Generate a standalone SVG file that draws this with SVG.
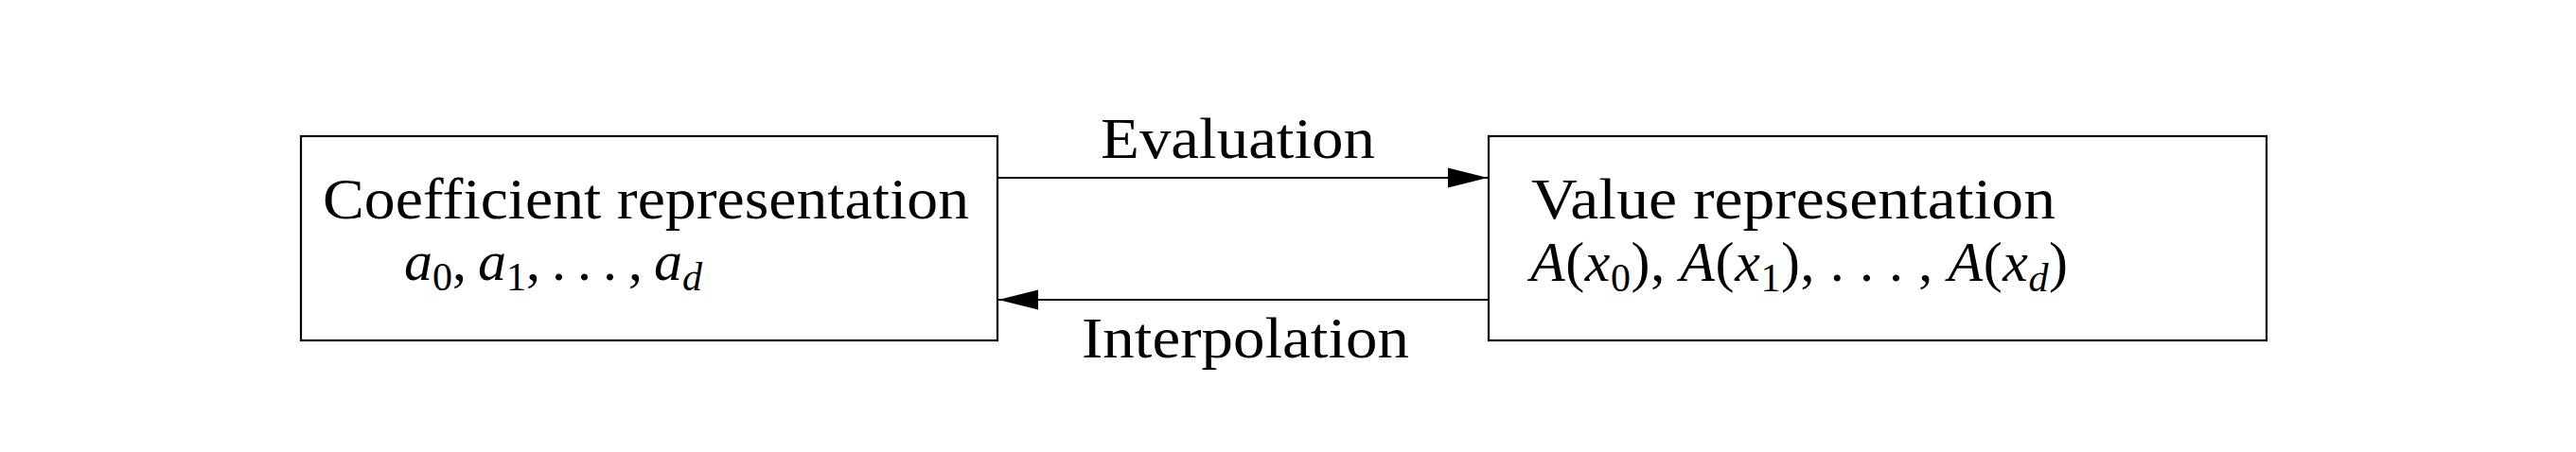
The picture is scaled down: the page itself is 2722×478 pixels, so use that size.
<svg xmlns="http://www.w3.org/2000/svg" width="2722" height="478" viewBox="0 0 2722 478">
<style>
.box{fill:#fff;stroke:#000;stroke-width:2.2}
.lbl{font-family:"Liberation Serif","Times New Roman",serif;font-size:62px;fill:#000}
.m{font-family:"Liberation Serif","Times New Roman",serif;font-size:60px;fill:#000}
.i{font-style:italic}
.conn{stroke:#000;stroke-width:2.2;fill:none}
</style>
<defs>
<marker id="arr" markerUnits="userSpaceOnUse" markerWidth="42" markerHeight="22" viewBox="0 0 40 20" refX="40" refY="10" orient="auto">
<path d="M0,0 L40,10 L0,20 Z" fill="#000"/>
</marker>
</defs>
<rect width="2722" height="478" fill="#fff"/>
<g id="connectors">
<line class="conn" x1="1054" y1="188" x2="1572" y2="188" marker-end="url(#arr)"/>
<line class="conn" x1="1573" y1="317" x2="1055" y2="317" marker-end="url(#arr)"/>
<text class="lbl" x="1163" y="167" textLength="290" lengthAdjust="spacingAndGlyphs">Evaluation</text>
<text class="lbl" x="1143" y="378" textLength="346" lengthAdjust="spacingAndGlyphs">Interpolation</text>
</g>
<g id="coef">
<rect class="box" x="318" y="144" width="736" height="216"/>
<text class="lbl" x="341" y="231" textLength="683" lengthAdjust="spacingAndGlyphs">Coefficient representation</text>
<text class="m" x="427" y="296"><tspan class="i">a</tspan><tspan font-size="42" dy="11">0</tspan><tspan dy="-11">,&#8201;</tspan><tspan class="i">a</tspan><tspan font-size="42" dy="11">1</tspan><tspan dy="-11">,&#8201;.&#8201;.&#8201;.&#8201;,&#8201;</tspan><tspan class="i">a</tspan><tspan class="i" font-size="42" dy="11">d</tspan></text>
</g>
<g id="value">
<rect class="box" x="1573" y="144" width="822" height="216"/>
<text class="lbl" x="1618" y="231" textLength="554" lengthAdjust="spacingAndGlyphs">Value representation</text>
<text class="m" x="1617" y="297" textLength="568" lengthAdjust="spacing"><tspan class="i">A</tspan><tspan>(</tspan><tspan class="i">x</tspan><tspan font-size="42" dy="11">0</tspan><tspan dy="-11">), </tspan><tspan class="i">A</tspan><tspan>(</tspan><tspan class="i">x</tspan><tspan font-size="42" dy="11">1</tspan><tspan dy="-11">), . . . , </tspan><tspan class="i">A</tspan><tspan>(</tspan><tspan class="i">x</tspan><tspan class="i" font-size="42" dy="11">d</tspan><tspan dy="-11">)</tspan></text>
</g>
</svg>
